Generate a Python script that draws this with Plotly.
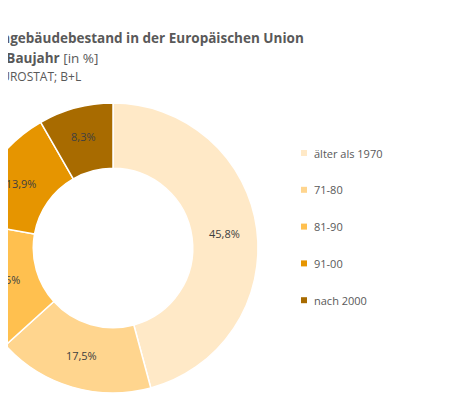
import plotly.graph_objects as go

categories = ["älter als 1970", "71-80", "81-90", "91-00", "nach 2000"]
values = [45.8, 17.5, 14.5, 13.9, 8.3]
colors = ["#FFE9C7", "#FFD58E", "#FFC04F", "#E69500", "#A86B00"]

SHIFT = 150  # page is shifted left, so the left part is cut like the reference
W, H = 469 + SHIFT, 409

def px(x):
    return (x + SHIFT) / W

def py(y):
    return 1 - y / H

fig = go.Figure(go.Pie(
    labels=categories, values=values, hole=0.55, sort=False, direction="clockwise",
    rotation=0, marker=dict(colors=colors, line=dict(color="white", width=1.5)),
    texttemplate=[f"{v:.1f}%".replace(".", ",") for v in values],
    textposition="inside", insidetextorientation="horizontal",
    textfont=dict(family="Open Sans", size=11, color="#404040"),
    showlegend=False,
    domain=dict(x=[px(-40), px(250)], y=[py(385), py(95)])))

ann = []
shapes = []
for i, (c, col) in enumerate(zip(categories, colors)):
    y = 145 + i * 36.8
    shapes.append(dict(type="rect", xref="paper", yref="paper",
                       x0=px(293), x1=px(299), y0=py(y + 3), y1=py(y - 3),
                       fillcolor=col, line=dict(width=0)))
    ann.append(dict(x=px(304), y=py(y), xref="paper", yref="paper", text=c,
                    showarrow=False, xanchor="left", yanchor="middle",
                    font=dict(family="Open Sans", size=11, color="#595959")))

ann += [
    dict(x=px(298), y=py(30), text="<b>Alter der Wohngebäudebestand in der Europäischen Union</b>",
         xanchor="right", font=dict(size=13.5, color="#595959")),
    dict(x=px(92), y=py(50), text="<b>nach Baujahr</b> [in %]",
         xanchor="right", font=dict(size=13.5, color="#595959")),
    dict(x=px(75), y=py(68), text="Quelle: EUROSTAT; B+L",
         xanchor="right", font=dict(size=12, color="#595959")),
]
for a in ann[-3:]:
    a.update(xref="paper", yref="paper", showarrow=False, yanchor="middle")
    a["font"]["family"] = "Open Sans"

fig.update_layout(width=W, height=H, margin=dict(l=0, r=0, t=0, b=0),
                  paper_bgcolor="white", annotations=ann, shapes=shapes)

fig.write_html("out.html", post_script=f"document.getElementById('{{plot_id}}').style.marginLeft='-{SHIFT}px';")
